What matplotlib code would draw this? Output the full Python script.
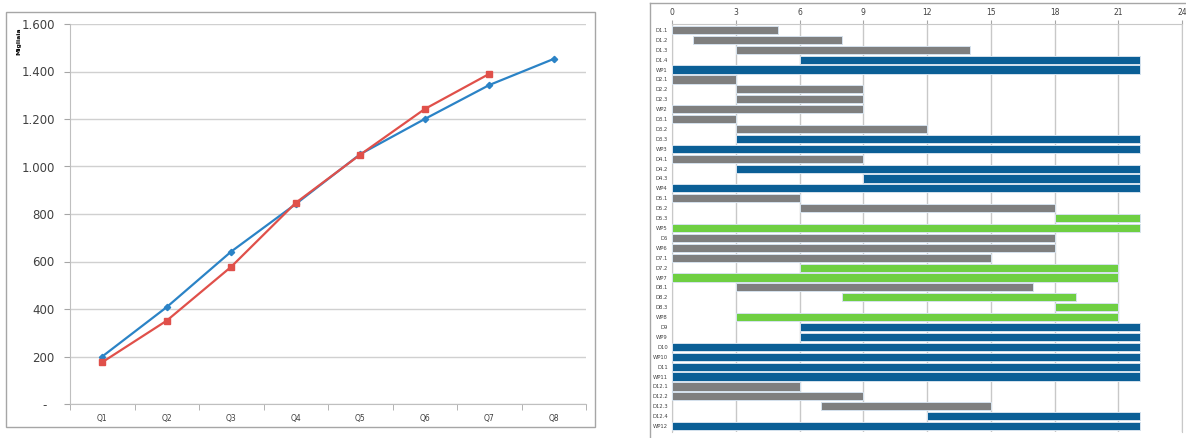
import matplotlib.pyplot as plt
from matplotlib.ticker import FuncFormatter
from matplotlib.patches import Rectangle
from matplotlib.lines import Line2D

# Quarterly cumulative totals (thousands)
quarters = ["Q1", "Q2", "Q3", "Q4", "Q5", "Q6", "Q7", "Q8"]
planned = [200, 408, 642, 842, 1052, 1200, 1343, 1453]
actual = [176, 351, 578, 847, 1050, 1242, 1390]

# Work plan: deliverables and work packages, in months
tasks = ["D1.1", "D1.2", "D1.3", "D1.4", "WP1",
         "D2.1", "D2.2", "D2.3", "WP2",
         "D3.1", "D3.2", "D3.3", "WP3",
         "D4.1", "D4.2", "D4.3", "WP4",
         "D5.1", "D5.2", "D5.3", "WP5",
         "D6", "WP6",
         "D7.1", "D7.2", "WP7",
         "D8.1", "D8.2", "D8.3", "WP8",
         "D9", "WP9", "D10", "WP10", "D11", "WP11",
         "D12.1", "D12.2", "D12.3", "D12.4", "WP12"]
start = [0, 1, 3, 6, 0,
         0, 3, 3, 0,
         0, 3, 3, 0,
         0, 3, 9, 0,
         0, 6, 18, 0,
         0, 0,
         0, 6, 0,
         3, 8, 18, 3,
         6, 6, 0, 0, 0, 0,
         0, 0, 7, 12, 0]
end = [5, 8, 14, 22, 22,
       3, 9, 9, 9,
       3, 12, 22, 22,
       9, 22, 22, 22,
       6, 18, 22, 22,
       18, 18,
       15, 21, 21,
       17, 19, 21, 21,
       22, 22, 22, 22, 22, 22,
       6, 9, 15, 22, 22]
status = ["done", "done", "done", "open", "open",
          "done", "done", "done", "done",
          "done", "done", "open", "open",
          "done", "open", "open", "open",
          "done", "done", "new", "new",
          "done", "done",
          "done", "new", "new",
          "done", "new", "new", "new",
          "open", "open", "open", "open", "open", "open",
          "done", "done", "done", "open", "open"]
month_ticks = [0, 3, 6, 9, 12, 15, 18, 21, 24]

status_colors = {"done": "#7f7f7f", "open": "#0b5f96", "new": "#6fcf42"}

W, H = 1186, 438
fig = plt.figure(figsize=(W / 100, H / 100), dpi=100)


def px_axes(x0, y0, x1, y1):
    return fig.add_axes([x0 / W, (H - y1) / H, (x1 - x0) / W, (y1 - y0) / H])


# panel frames
fig.add_artist(Rectangle((6 / W, (H - 427) / H), 589 / W, 415 / H,
                         transform=fig.transFigure, fill=False,
                         edgecolor="#a6a6a6", lw=1))
fig.add_artist(Line2D([650 / W, 650 / W], [0, (H - 3) / H],
                      transform=fig.transFigure, color="#a6a6a6", lw=1))
fig.add_artist(Line2D([650 / W, 1], [(H - 3) / H, (H - 3) / H],
                      transform=fig.transFigure, color="#a6a6a6", lw=1))

# ---- line chart ----
ax = px_axes(70, 24, 586, 404)
xs = list(range(1, len(quarters) + 1))
ax.plot(xs, planned, color="#2b83c6", lw=1.6, marker="D", ms=3.2, zorder=3)
ax.plot(xs[:len(actual)], actual, color="#e0504a", lw=1.6, marker="s",
        ms=5, zorder=3)
ax.set_xlim(0.5, len(quarters) + 0.5)
ax.set_ylim(0, 1600)
ax.set_yticks(range(0, 1601, 200))
ax.yaxis.set_major_formatter(FuncFormatter(
    lambda v, p: "-  " if v == 0 else f"{int(v):,}".replace(",", ".")))
ax.set_xticks(xs)
ax.set_xticklabels(quarters)
ax.set_xticks([x + 0.5 for x in [0] + xs], minor=True)
ax.tick_params(axis="x", which="major", length=0, labelsize=5.5, pad=7,
               labelcolor="#404040")
ax.tick_params(axis="x", which="minor", length=4, color="#a6a6a6")
ax.tick_params(axis="y", length=4, color="#a6a6a6", labelsize=8.5,
               labelcolor="#404040", pad=7)
ax.grid(axis="y", color="#d0d0d0", lw=1)
ax.set_axisbelow(True)
for s in ["top", "right"]:
    ax.spines[s].set_visible(False)
for s in ["left", "bottom"]:
    ax.spines[s].set_color("#bfbfbf")
fig.text(19 / W, (H - 41) / H, "Migliaia", rotation=90, fontsize=4.5,
         fontweight="bold", ha="center", va="center")

# ---- gantt ----
gx = px_axes(672, 24, 1182, 432)
rows = range(len(tasks))
gx.barh(rows, [e - s for s, e in zip(start, end)], left=start, height=0.82,
        color=[status_colors[k] for k in status], edgecolor="#d5e2ee",
        lw=0.7, zorder=3)
gx.set_ylim(len(tasks) - 0.4, -0.6)
gx.set_xlim(0, 24)
gx.set_xticks(month_ticks)
gx.xaxis.tick_top()
gx.tick_params(axis="x", length=3, color="#a6a6a6", labelsize=5.5,
               labelcolor="#404040", pad=2)
gx.set_yticks(list(rows))
gx.set_yticklabels(tasks)
gx.tick_params(axis="y", length=0, labelsize=3.8, labelcolor="#404040",
               pad=3)
gx.grid(axis="x", color="#c8c8c8", lw=1)
gx.set_axisbelow(True)
gx.spines["bottom"].set_visible(False)
for s in ["top", "left", "right"]:
    gx.spines[s].set_color("#c8c8c8")

fig.savefig("out.png", dpi=100)
